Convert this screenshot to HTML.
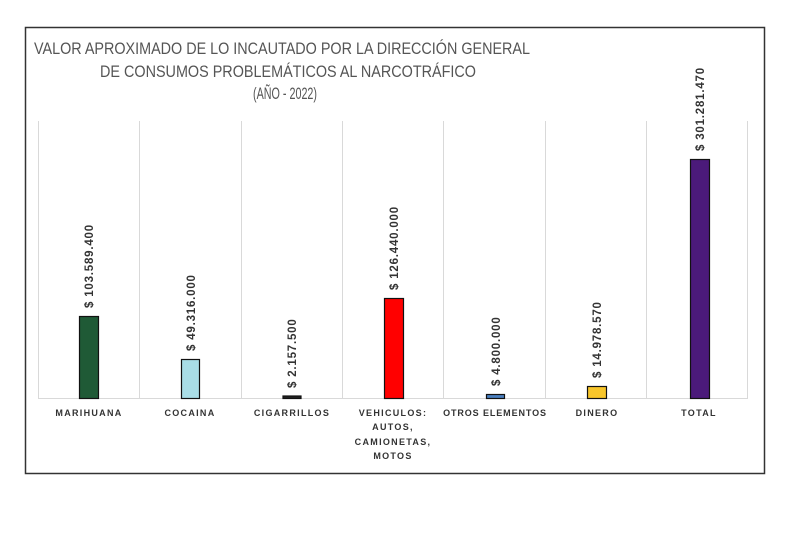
<!DOCTYPE html>
<html><head><meta charset="utf-8"><style>
body{margin:0;width:790px;height:544px;background:#fff;overflow:hidden;font-family:"Liberation Sans",sans-serif}
</style></head><body>
<svg width="790" height="544" xmlns="http://www.w3.org/2000/svg">
<rect x="25.5" y="27.5" width="739" height="446" fill="#fff" stroke="#333" stroke-width="1.5"/>
<g font-family="Liberation Sans Narrow, Liberation Sans, sans-serif" font-size="17" fill="#555" text-anchor="middle">
<text x="282" y="54" textLength="496" lengthAdjust="spacingAndGlyphs">VALOR APROXIMADO DE LO INCAUTADO POR LA DIRECCIÓN GENERAL</text>
<text x="288" y="77" textLength="376" lengthAdjust="spacingAndGlyphs">DE CONSUMOS PROBLEMÁTICOS AL NARCOTRÁFICO</text>
<text x="285" y="99" textLength="64" lengthAdjust="spacingAndGlyphs">(AÑO - 2022)</text>
</g>
<g stroke="#d9d9d9" stroke-width="1">
<line x1="38.5" y1="121" x2="38.5" y2="398"/><line x1="139.5" y1="121" x2="139.5" y2="398"/>
<line x1="241.5" y1="121" x2="241.5" y2="398"/><line x1="342.5" y1="121" x2="342.5" y2="398"/>
<line x1="443.5" y1="121" x2="443.5" y2="398"/><line x1="545.5" y1="121" x2="545.5" y2="398"/>
<line x1="646.5" y1="121" x2="646.5" y2="398"/><line x1="747.5" y1="121" x2="747.5" y2="398"/>
<line x1="38" y1="398.5" x2="748" y2="398.5"/>
</g>
<g stroke="#111" stroke-width="1.2">
<rect x="79.5" y="316.5" width="19" height="82" fill="#1f5a36"/>
<rect x="181.5" y="359.5" width="18" height="39" fill="#a9dde6"/>
<rect x="283" y="396" width="18" height="2.5" fill="#222"/>
<rect x="384.5" y="298.5" width="19" height="100" fill="#ff0000"/>
<rect x="486.5" y="394.5" width="18" height="4" fill="#4a7fc0"/>
<rect x="587.5" y="386.5" width="19" height="12" fill="#f7c52a"/>
<rect x="690.5" y="159.5" width="19" height="239" fill="#4b1a7a"/>
</g>
<g font-size="11.5" font-weight="bold" fill="#333" letter-spacing="0.8">
<text transform="translate(93,308) rotate(-90)">$ 103.589.400</text>
<text transform="translate(195,351) rotate(-90)">$ 49.316.000</text>
<text transform="translate(296,388) rotate(-90)">$ 2.157.500</text>
<text transform="translate(398,290) rotate(-90)">$ 126.440.000</text>
<text transform="translate(500,386) rotate(-90)">$ 4.800.000</text>
<text transform="translate(601,378) rotate(-90)">$ 14.978.570</text>
<text transform="translate(704,151) rotate(-90)">$ 301.281.470</text>
</g>
<g font-size="9" font-weight="bold" fill="#333" letter-spacing="1.3" text-anchor="middle">
<text x="89" y="416">MARIHUANA</text>
<text x="190" y="416">COCAINA</text>
<text x="292" y="416">CIGARRILLOS</text>
<text x="393" y="416">VEHICULOS:</text>
<text x="393" y="430">AUTOS,</text>
<text x="393" y="445">CAMIONETAS,</text>
<text x="393" y="459">MOTOS</text>
<text x="495" y="416" letter-spacing="0.9">OTROS ELEMENTOS</text>
<text x="597" y="416">DINERO</text>
<text x="699" y="416">TOTAL</text>
</g>
</svg>
</body></html>
